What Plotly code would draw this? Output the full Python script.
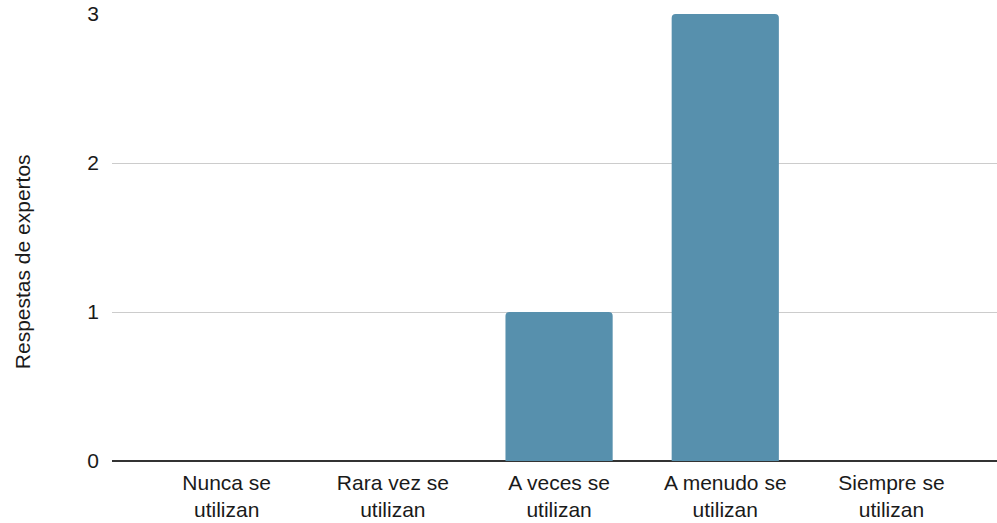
import plotly.graph_objects as go

categorias = ["Nunca se<br>utilizan", "Rara vez se<br>utilizan", "A veces se<br>utilizan",
              "A menudo se<br>utilizan", "Siempre se<br>utilizan"]
respuestas = [0, 0, 1, 3, 0]
ticks_y = [0, 1, 2, 3]

fig = go.Figure(
    go.Bar(
        x=list(range(len(categorias))),
        y=respuestas,
        marker=dict(color="#5790ad", line=dict(width=0)),
        width=0.645,
        hoverinfo="y",
    )
)

font_family = "Liberation Sans, Arial, sans-serif"

fig.update_layout(
    width=997,
    height=523,
    margin=dict(l=112, r=0, t=14, b=62),
    plot_bgcolor="white",
    paper_bgcolor="white",
    barcornerradius=4,
    showlegend=False,
    font=dict(family=font_family, size=21, color="#1a1a1a"),
    xaxis=dict(
        range=[-0.69, 4.635],
        tickmode="array",
        tickvals=list(range(len(categorias))),
        ticktext=categorias,
        showgrid=False,
        zeroline=False,
        showline=False,
        ticks="",
        ticklabelstandoff=7,
    ),
    yaxis=dict(
        range=[0, 3],
        tickmode="array",
        tickvals=ticks_y,
        ticktext=[str(v) for v in ticks_y],
        showgrid=True,
        gridcolor="#cccccc",
        gridwidth=1,
        zeroline=True,
        zerolinecolor="#333333",
        zerolinewidth=2,
        showline=False,
        ticks="",
        ticklabelstandoff=12,
    ),
    annotations=[
        dict(
            text="Respestas de expertos",
            xref="paper", yref="paper",
            x=-0.1017, y=0.447,
            xanchor="center", yanchor="middle",
            textangle=-90,
            showarrow=False,
            font=dict(family=font_family, size=21, color="#1a1a1a"),
        )
    ],
)

fig.write_html("out.html")
